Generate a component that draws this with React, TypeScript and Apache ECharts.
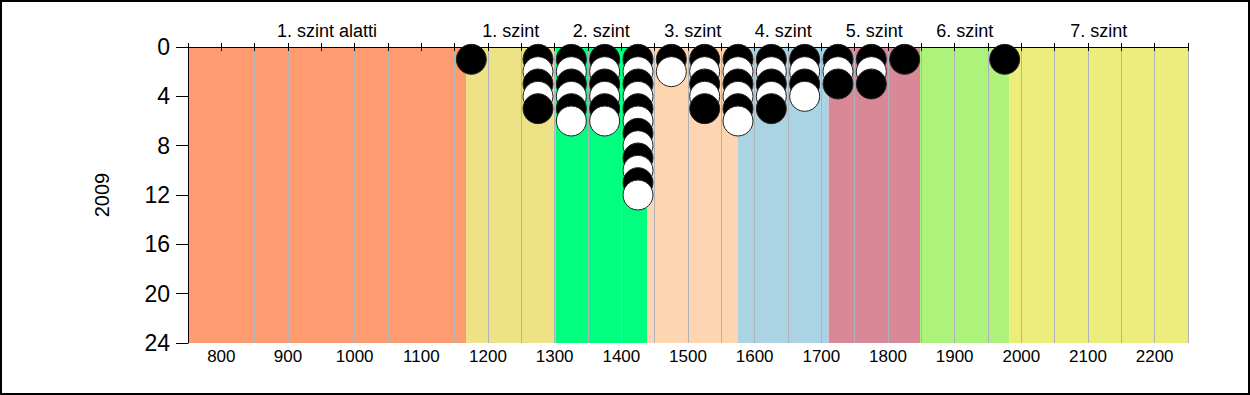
import React, { useEffect, useRef } from "react";
import * as echarts from "echarts";

// Score bins (x) and number of students in each bin
const scoreBins = [1175, 1275, 1325, 1375, 1425, 1475, 1525, 1575, 1625, 1675, 1725, 1775, 1825, 1975];
const binCounts = [1, 5, 6, 6, 12, 2, 5, 6, 5, 4, 3, 3, 1, 1];

// Proficiency levels
const levelNames = ["1. szint alatti", "1. szint", "2. szint", "3. szint", "4. szint", "5. szint", "6. szint", "7. szint"];
const levelStarts = [750, 1167, 1301, 1439, 1575, 1711, 1848, 1982];
const levelEnds = [1167, 1301, 1439, 1575, 1711, 1848, 1982, 2250];
const levelColors = ["#FF9B71", "#EEE286", "#00FF7F", "#FDD6B1", "#AAD4E4", "#D98898", "#ADF27B", "#EDED7C"];

const xMin = 750;
const xMax = 2250;
const yMin = 0;
const yMax = 24;
const yAxisName = "2009";

const FONT = "'Liberation Sans', Arial, sans-serif";

export default function App() {
  const ref = useRef<HTMLDivElement>(null);

  useEffect(() => {
    if (!ref.current) return;
    const chart = echarts.init(ref.current, undefined, { renderer: "svg" });

    const points: any[] = [];
    scoreBins.forEach((x, i) => {
      for (let k = 1; k <= binCounts[i]; k++) {
        const black = k % 2 === 1;
        points.push({
          value: [x, k],
          itemStyle: { color: black ? "#000000" : "#FFFFFF", opacity: 1 },
        });
      }
    });

    const bands = levelNames.map((n, i) => [levelStarts[i], levelEnds[i], i]);

    const option: any = {
      animation: false,
      backgroundColor: "#FFFFFF",
      grid: { left: 188, right: 62, top: 47, bottom: 52 },
      xAxis: [
        {
          type: "value",
          position: "bottom",
          min: xMin,
          max: xMax,
          interval: 50,
          axisLine: { show: true, lineStyle: { color: "#000", width: 1 } },
          axisTick: { show: true, length: 4, lineStyle: { color: "#000" } },
          axisLabel: {
            interval: 0,
            margin: 5,
            fontSize: 17,
            fontFamily: FONT,
            color: "#000",
            formatter: (v: number) => (v % 100 === 0 && v > xMin && v < xMax ? String(v) : ""),
          },
          splitLine: { show: true, lineStyle: { color: "#B0B4B8", width: 1 } },
        },
        {
          type: "value",
          position: "top",
          min: xMin,
          max: xMax,
          interval: 50,
          axisLine: { show: true, lineStyle: { color: "#000", width: 1 } },
          axisTick: { show: true, length: 4, lineStyle: { color: "#000" } },
          axisLabel: { show: false },
          splitLine: { show: false },
        },
      ],
      yAxis: {
        type: "value",
        inverse: true,
        min: yMin,
        max: yMax,
        interval: 4,
        name: yAxisName,
        nameLocation: "middle",
        nameGap: 76,
        nameTextStyle: { fontSize: 20, fontFamily: FONT, color: "#000" },
        axisLine: { show: true, lineStyle: { color: "#000", width: 1 } },
        axisTick: { show: true, length: 12, lineStyle: { color: "#000" } },
        axisLabel: { fontSize: 23, fontFamily: FONT, color: "#000", margin: 18 },
        splitLine: { show: false },
      },
      series: [
        {
          type: "custom",
          z: -1,
          silent: true,
          xAxisIndex: 0,
          yAxisIndex: 0,
          clip: false,
          encode: { x: [0, 1] },
          data: bands,
          renderItem: (params: any, api: any) => {
            const idx = api.value(2);
            const s = api.coord([api.value(0), yMin]);
            const e = api.coord([api.value(1), yMax]);
            return {
              type: "group",
              children: [
                {
                  type: "rect",
                  shape: { x: s[0], y: s[1], width: e[0] - s[0], height: e[1] - s[1] },
                  style: { fill: levelColors[idx] },
                },
                {
                  type: "text",
                  x: (s[0] + e[0]) / 2,
                  y: s[1] - 16,
                  style: {
                    text: levelNames[idx],
                    fill: "#000",
                    fontSize: 18,
                    fontFamily: FONT,
                    align: "center",
                    verticalAlign: "middle",
                  },
                },
              ],
            };
          },
        },
        {
          type: "scatter",
          z: 5,
          clip: false,
          silent: true,
          symbol: "circle",
          symbolSize: 30,
          itemStyle: { borderColor: "#222", borderWidth: 1, opacity: 1 },
          emphasis: { disabled: true },
          data: points,
        },
      ],
      graphic: [
        {
          type: "rect",
          z: 100,
          silent: true,
          shape: { x: 1, y: 1, width: 1248, height: 393 },
          style: { fill: "none", stroke: "#000", lineWidth: 2 },
        },
      ],
    };

    chart.setOption(option);
    return () => chart.dispose();
  }, []);

  return (
    <div
      ref={ref}
      style={{ position: "fixed", left: 0, top: 0, width: 1250, height: 395, background: "#fff" }}
    />
  );
}
